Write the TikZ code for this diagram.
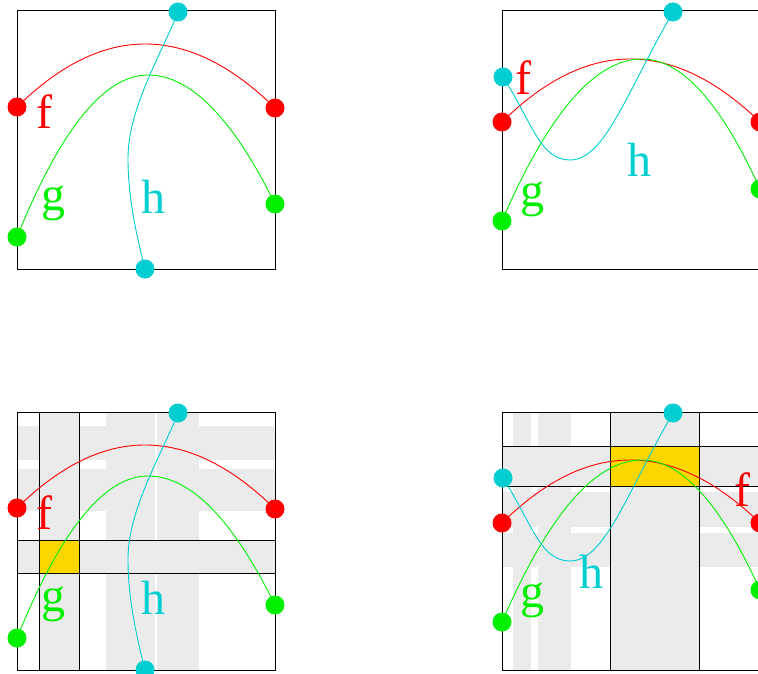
\documentclass[tikz,border=0pt]{standalone}
\usepackage{fontspec}
\setmainfont{Liberation Serif}
\definecolor{hcyan}{HTML}{00CED1}
\definecolor{ggreen}{HTML}{00F000}
\definecolor{stripe}{HTML}{EBEBEB}
\definecolor{goldc}{HTML}{FFD700}
\begin{document}
\begin{tikzpicture}[x=1pt,y=-1pt,
  frame/.style={draw=black, line width=1pt},
  fcurve/.style={draw=red, line width=0.9pt},
  gcurve/.style={draw=ggreen, line width=0.9pt},
  hcurve/.style={draw=hcyan, line width=0.9pt},
  dotbase/.style={circle, inner sep=0pt, minimum size=19pt},
  dotf/.style={dotbase, fill=red},
  dotg/.style={dotbase, fill=ggreen},
  doth/.style={dotbase, fill=hcyan},
  lab/.style={inner sep=0pt, font=\fontsize{48}{48}\selectfont},
  band/.style={fill=stripe, draw=none},
  barbox/.style={fill=stripe, draw=black, line width=1pt},
  hitbox/.style={fill=goldc, draw=black, line width=1pt}
]
\clip (0,0) rectangle (758,674);
\fill[white] (0,0) rectangle (758,674);

% ---------- left panels curves (used twice) ----------
\newcommand{\leftcurves}[1]{%
  \coordinate (#1f1) at (17,107);
  \coordinate (#1fv) at (145,44);
  \coordinate (#1f2) at (275,108);
  \coordinate (#1g1) at (17,237);
  \coordinate (#1gv) at (148,75);
  \coordinate (#1g2) at (275,204);
  \coordinate (#1h1) at (178,12);
  \coordinate (#1hv) at (128,158);
  \coordinate (#1h2) at (145,269);
  \draw[fcurve] (#1f1) .. controls (59.7,65) and (102.3,44) .. (#1fv)
                 .. controls (188.3,44) and (231.7,65.3) .. (#1f2);
  \draw[gcurve] (#1g1) .. controls (60.7,129) and (104.3,75) .. (#1gv)
                 .. controls (190.3,75) and (232.7,118) .. (#1g2);
  \draw[hcurve] (#1h1) .. controls (162.4,52) and (128,108) .. (#1hv)
                 .. controls (128,198) and (136.25,234) .. (#1h2);
  \node[dotf] (#1F1) at (#1f1) {};
  \node[dotf] (#1F2) at (#1f2) {};
  \node[dotg] (#1G1) at (#1g1) {};
  \node[dotg] (#1G2) at (#1g2) {};
  \node[doth] (#1H1) at (#1h1) {};
  \node[doth] (#1H2) at (#1h2) {};
  \node[lab, text=red] (#1lf) at (44,112) {f};
  \node[lab, text=ggreen] (#1lg) at (53,203) {g};
  \node[lab, text=hcyan] (#1lh) at (153,197) {h};
}
\newcommand{\rightcurves}[1]{%
  \coordinate (#1f1) at (502,122);
  \coordinate (#1fv) at (630,59);
  \coordinate (#1f2) at (760,122);
  \coordinate (#1g1) at (502,221);
  \coordinate (#1gv) at (642,59);
  \coordinate (#1g2) at (760,189);
  \coordinate (#1h1) at (503,77);
  \coordinate (#1hv) at (570,160);
  \coordinate (#1h2) at (673,12);
  \draw[fcurve] (#1f1) .. controls (544.7,80) and (587.3,59) .. (#1fv)
                 .. controls (673.3,59) and (716.7,80) .. (#1f2);
  \draw[gcurve] (#1g1) .. controls (548.7,113) and (595.3,59) .. (#1gv)
                 .. controls (681.3,59) and (720.7,102.3) .. (#1g2);
  \draw[hcurve] (#1h1) .. controls (532,122) and (540,160) .. (#1hv)
                 .. controls (605,160) and (626.6,92) .. (#1h2);
  \node[dotf] (#1F1) at (#1f1) {};
  \node[dotf] (#1F2) at (#1f2) {};
  \node[dotg] (#1G1) at (#1g1) {};
  \node[dotg] (#1G2) at (#1g2) {};
  \node[doth] (#1H1) at (#1h1) {};
  \node[doth] (#1H2) at (#1h2) {};
  \node[lab, text=ggreen] (#1lg) at (532,199) {g};
}

% ---------- top-left ----------
\draw[frame] (17,11) rectangle (275,269);
\leftcurves{a}

% ---------- top-right ----------
\draw[frame] (502,11) rectangle (760,269);
\rightcurves{b}
\node[lab, text=red] (blf) at (523,78) {f};
\node[lab, text=hcyan] (blh) at (639,160) {h};

% ---------- bottom-left ----------
\begin{scope}[shift={(0,401)}]
  \fill[band] (106,11) rectangle (155,269);
  \fill[band] (157,11) rectangle (199,269);
  \fill[band] (17,25) rectangle (275,59);
  \fill[band] (17,68) rectangle (275,110);
  \fill[white] (155,11) rectangle (157,269);
  \draw[barbox] (39,11) rectangle (79,269);
  \draw[barbox] (17,139) rectangle (275,172);
  \draw[hitbox] (39,139) rectangle (79,172);
  \draw[frame] (17,11) rectangle (275,269);
  \leftcurves{c}
\end{scope}

% ---------- bottom-right ----------
\begin{scope}[shift={(0,401)}]
  \fill[band] (513,11) rectangle (531,269);
  \fill[band] (538,11) rectangle (571,269);
  \fill[band] (502,91) rectangle (760,126);
  \fill[band] (502,132) rectangle (760,166);
  \draw[barbox] (502,45) rectangle (760,85);
  \draw[barbox] (610,11) rectangle (699,269);
  \draw[hitbox] (610,45) rectangle (699,85);
  \draw[frame] (502,11) rectangle (760,269);
  \rightcurves{d}
  \node[lab, text=red] (dlf) at (742,89) {f};
  \node[lab, text=hcyan] (dlh) at (591,171) {h};
\end{scope}
\end{tikzpicture}
\end{document}
